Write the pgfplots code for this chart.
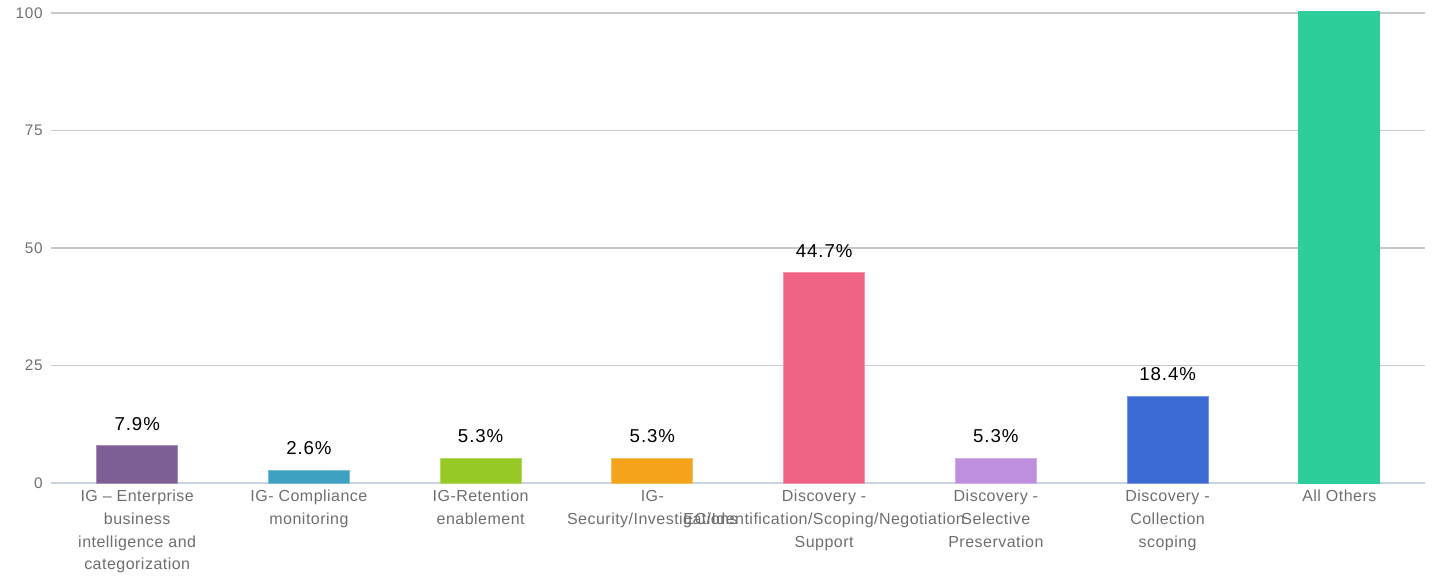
\documentclass[border=0pt]{standalone}
\usepackage{pgfplots}
\pgfplotsset{compat=1.18}
\usepackage{fontspec}
\setmainfont{Liberation Sans}
\newfontfamily\tickfont[LetterSpace=3]{Liberation Sans}
\newfontfamily\valfont[LetterSpace=5]{Liberation Sans}
\newfontfamily\yfont[LetterSpace=5]{Liberation Sans}
\definecolor{cA}{HTML}{7E5F95}
\definecolor{cB}{HTML}{3FA1C1}
\definecolor{cC}{HTML}{96C926}
\definecolor{cD}{HTML}{F5A31B}
\definecolor{cE}{HTML}{F06385}
\definecolor{cF}{HTML}{BE8FDF}
\definecolor{cG}{HTML}{3B6BD2}
\definecolor{cH}{HTML}{2ECE9C}
\definecolor{gridc}{HTML}{C8C8C8}
\definecolor{axisc}{HTML}{C9D3E0}
\definecolor{tickc}{HTML}{6E6E6E}
\begin{document}
\begin{tikzpicture}
\begin{axis}[
  scale only axis,
  width=1030.5pt, height=353.4pt,
  xmin=-0.5, xmax=7.5,
  ymin=0, ymax=100.25,
  ybar, bar width=60.75pt, bar shift=0pt,
  axis x line*=bottom, axis y line*=left,
  y axis line style={draw=none},
  x axis line style={color=axisc, line width=1.1pt},
  ytick={0,25,50,75,100},
  ytick style={draw=none},
  ymajorgrids, grid style={color=gridc, line width=1pt},
  xtick={0,...,7},
  xticklabels={
    {IG – Enterprise\\business\\intelligence and\\categorization},
    {IG- Compliance\\monitoring},
    {IG-Retention\\enablement},
    {IG-\\Security/Investigations},
    {Discovery -\\EC/Identification/Scoping/Negotiation\\Support},
    {Discovery -\\Selective\\Preservation},
    {Discovery -\\Collection\\scoping},
    {All Others}},
  xtick style={draw=none},
  major tick length=0pt,
  extra x ticks={0.5,1.5,2.5,3.5,4.5,5.5,6.5,7.5},
  extra x tick labels={},
  extra x tick style={grid=none, tick align=outside, major tick length=6pt,
     tick style={draw=axisc, line width=1.1pt}},
  xticklabel style={align=center, font=\tickfont\fontsize{12}{17}\selectfont, text=tickc, yshift=-2pt},
  yticklabel style={font=\yfont\fontsize{11.5}{13}\selectfont, text=tickc, xshift=-3pt},
  /pgf/number format/assume math mode=true,
  clip=true,
  nodes near coords,
  point meta=explicit symbolic,
  every node near coord/.append style={font=\valfont\fontsize{14}{16}\selectfont, text=black, yshift=8pt},
]
\addplot[fill=cA, draw=cA!70!white, line width=0.75pt] coordinates {(0,7.9)[7.9\%]};
\addplot[fill=cB, draw=cB!70!white, line width=0.75pt] coordinates {(1,2.6)[2.6\%]};
\addplot[fill=cC, draw=cC!70!white, line width=0.75pt] coordinates {(2,5.3)[5.3\%]};
\addplot[fill=cD, draw=cD!70!white, line width=0.75pt] coordinates {(3,5.3)[5.3\%]};
\addplot[fill=cE, draw=cE!70!white, line width=0.75pt] coordinates {(4,44.7)[44.7\%]};
\addplot[fill=cF, draw=cF!70!white, line width=0.75pt] coordinates {(5,5.3)[5.3\%]};
\addplot[fill=cG, draw=cG!70!white, line width=0.75pt] coordinates {(6,18.4)[18.4\%]};
\addplot[fill=cH, draw=cH, line width=0.75pt, nodes near coords={}] coordinates {(7,101)[]};
\end{axis}
\pgfresetboundingbox
\path (-38.5pt,-69pt) rectangle (1037pt,362.25pt);
\end{tikzpicture}
\end{document}
